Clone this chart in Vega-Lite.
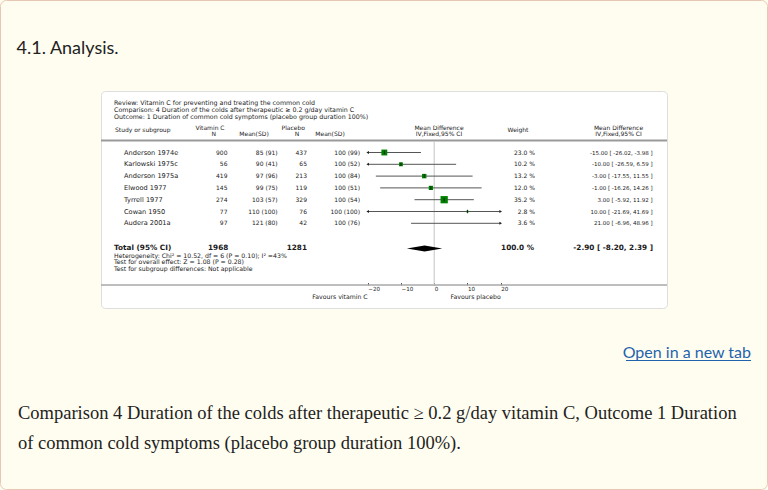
{
  "$schema": "https://vega.github.io/schema/vega-lite/v6.json",
  "width": 566,
  "height": 217,
  "autosize": {"type": "none"},
  "padding": {"left": 101, "top": 91, "right": 101, "bottom": 182},
  "background": "#fffdf0",
  "title": {"text": "4.1. Analysis.", "anchor": "start", "frame": "group", "dx": -84.5, "offset": -72, "baseline": "alphabetic", "font": "Lato", "fontSize": 18, "fontWeight": "normal", "color": "#222222"},
  "config": {
    "view": {"fill": "white", "stroke": "#dedede", "cornerRadius": 4},
    "font": "DejaVu Sans",
    "text": {"font": "DejaVu Sans", "fontSize": 6, "color": "#1a1a1a"}
  },
  "datasets": {
    "studies": [
      {"study": "Anderson 1974e", "n_vit": 900, "vit": "85 (91)", "n_pla": 437, "pla": "100 (99)", "weight": 23.0, "weight_label": "23.0 %", "md": -15.00, "lo": -26.02, "hi": -3.98, "ci_label": "-15.00 [ -26.02, -3.98 ]"},
      {"study": "Karlowski 1975c", "n_vit": 56, "vit": "90 (41)", "n_pla": 65, "pla": "100 (52)", "weight": 10.2, "weight_label": "10.2 %", "md": -10.00, "lo": -26.59, "hi": 6.59, "ci_label": "-10.00 [ -26.59, 6.59 ]"},
      {"study": "Anderson 1975a", "n_vit": 419, "vit": "97 (96)", "n_pla": 213, "pla": "100 (84)", "weight": 13.2, "weight_label": "13.2 %", "md": -3.00, "lo": -17.55, "hi": 11.55, "ci_label": "-3.00 [ -17.55, 11.55 ]"},
      {"study": "Elwood 1977", "n_vit": 145, "vit": "99 (75)", "n_pla": 119, "pla": "100 (51)", "weight": 12.0, "weight_label": "12.0 %", "md": -1.00, "lo": -16.26, "hi": 14.26, "ci_label": "-1.00 [ -16.26, 14.26 ]"},
      {"study": "Tyrrell 1977", "n_vit": 274, "vit": "103 (57)", "n_pla": 329, "pla": "100 (54)", "weight": 35.2, "weight_label": "35.2 %", "md": 3.00, "lo": -5.92, "hi": 11.92, "ci_label": "3.00 [ -5.92, 11.92 ]"},
      {"study": "Cowan 1950", "n_vit": 77, "vit": "110 (100)", "n_pla": 76, "pla": "100 (100)", "weight": 2.8, "weight_label": "2.8 %", "md": 10.00, "lo": -21.69, "hi": 41.69, "ci_label": "10.00 [ -21.69, 41.69 ]"},
      {"study": "Audera 2001a", "n_vit": 97, "vit": "121 (80)", "n_pla": 42, "pla": "100 (76)", "weight": 3.6, "weight_label": "3.6 %", "md": 21.00, "lo": -6.96, "hi": 48.96, "ci_label": "21.00 [ -6.96, 48.96 ]"}
    ],
    "total": [
      {"study": "Total (95% CI)", "n_vit": 1968, "n_pla": 1281, "weight_label": "100.0 %", "md": -2.90, "lo": -8.20, "hi": 2.39, "ci_label": "-2.90 [ -8.20, 2.39 ]"}
    ]
  },
  "data": {"name": "studies"},
  "layer": [
    {
      "data": {"values": [{}]},
      "mark": {"type": "rect", "fillOpacity": 0, "stroke": "#e8c6b4", "strokeWidth": 1, "cornerRadius": 6},
      "encoding": {"x": {"value": -100.5}, "x2": {"value": 666.5}, "y": {"value": -90.5}, "y2": {"value": 398.5}}
    },
    {
      "data": {"values": [{}]},
      "mark": {"type": "text", "align": "left", "baseline": "alphabetic", "lineHeight": 7, "fontSize": 6.3},
      "encoding": {"x": {"value": 13}, "y": {"value": 14}, "text": {"value": ["Review:  Vitamin C for preventing and treating the common cold", "Comparison:  4 Duration of the colds after therapeutic \u2265 0.2 g/day vitamin C", "Outcome:  1 Duration of common cold symptoms (placebo group duration 100%)"]}}
    },
    {
      "data": {"values": [{}]},
      "mark": {"type": "text", "align": "left", "baseline": "alphabetic"},
      "encoding": {"x": {"value": 14}, "y": {"value": 40.5}, "text": {"value": "Study or subgroup"}}
    },
    {
      "data": {"values": [{}]},
      "mark": {"type": "text", "align": "center", "baseline": "alphabetic"},
      "encoding": {"x": {"value": 109}, "y": {"value": 38.8}, "text": {"value": "Vitamin C"}}
    },
    {
      "data": {"values": [{}]},
      "mark": {"type": "text", "align": "center", "baseline": "alphabetic"},
      "encoding": {"x": {"value": 112.8}, "y": {"value": 45}, "text": {"value": "N"}}
    },
    {
      "data": {"values": [{}]},
      "mark": {"type": "text", "align": "center", "baseline": "alphabetic"},
      "encoding": {"x": {"value": 153}, "y": {"value": 45}, "text": {"value": "Mean(SD)"}}
    },
    {
      "data": {"values": [{}]},
      "mark": {"type": "text", "align": "center", "baseline": "alphabetic"},
      "encoding": {"x": {"value": 192.3}, "y": {"value": 38.8}, "text": {"value": "Placebo"}}
    },
    {
      "data": {"values": [{}]},
      "mark": {"type": "text", "align": "center", "baseline": "alphabetic"},
      "encoding": {"x": {"value": 196}, "y": {"value": 45}, "text": {"value": "N"}}
    },
    {
      "data": {"values": [{}]},
      "mark": {"type": "text", "align": "center", "baseline": "alphabetic"},
      "encoding": {"x": {"value": 229}, "y": {"value": 45}, "text": {"value": "Mean(SD)"}}
    },
    {
      "data": {"values": [{}]},
      "mark": {"type": "text", "align": "center", "baseline": "alphabetic", "lineHeight": 6},
      "encoding": {"x": {"value": 338}, "y": {"value": 39.3}, "text": {"value": ["Mean Difference", "IV,Fixed,95% CI"]}}
    },
    {
      "data": {"values": [{}]},
      "mark": {"type": "text", "align": "center", "baseline": "alphabetic"},
      "encoding": {"x": {"value": 417}, "y": {"value": 40.5}, "text": {"value": "Weight"}}
    },
    {
      "data": {"values": [{}]},
      "mark": {"type": "text", "align": "center", "baseline": "alphabetic", "lineHeight": 6},
      "encoding": {"x": {"value": 517.5}, "y": {"value": 39.3}, "text": {"value": ["Mean Difference", "IV,Fixed,95% CI"]}}
    },
    {
      "data": {"values": [{}]},
      "mark": {"type": "rule", "color": "#9a9a9a", "strokeWidth": 2},
      "encoding": {"y": {"value": 49.5}}
    },
    {
      "data": {"values": [{}]},
      "mark": {"type": "rule", "color": "#a8a8a8", "strokeWidth": 1.5},
      "encoding": {"y": {"value": 194}}
    },
    {
      "data": {"values": [{}]},
      "mark": {"type": "rule", "color": "#c4c4c4", "strokeWidth": 1},
      "encoding": {"x": {"datum": 0}, "y": {"value": 50.5}, "y2": {"value": 194}}
    },
    {
      "mark": {"type": "rule", "color": "#555555", "strokeWidth": 1},
      "encoding": {
        "x": {"field": "lo", "type": "quantitative", "scale": {"domain": [-20, 20], "range": [266.7, 399.7], "clamp": true},
              "axis": {"values": [-20, -10, 0, 10, 20], "orient": "bottom", "offset": -23, "domain": false, "grid": false, "ticks": true, "tickSize": -2.5, "tickColor": "#555555", "tickWidth": 1, "labelFont": "DejaVu Sans", "labelFontSize": 5.6, "labelColor": "#222222", "labelAlign": "left", "labelBaseline": "top", "labelPadding": 3.8, "labelFlush": false, "labelOverlap": false, "title": null}},
        "x2": {"field": "hi"},
        "y": {"field": "study", "type": "nominal", "scale": {"type": "point", "domain": ["Anderson 1974e", "Karlowski 1975c", "Anderson 1975a", "Elwood 1977", "Tyrrell 1977", "Cowan 1950", "Audera 2001a", " ", "Total (95% CI)"], "range": [61.5, 155.9], "padding": 0}, "axis": null}
      }
    },
    {
      "transform": [{"filter": "datum.lo < -20"}],
      "mark": {"type": "point", "shape": "triangle-left", "filled": true, "size": 9, "color": "#222222", "opacity": 1},
      "encoding": {
        "x": {"field": "lo", "type": "quantitative"},
        "y": {"field": "study", "type": "nominal", "axis": null}
      }
    },
    {
      "transform": [{"filter": "datum.hi > 20"}],
      "mark": {"type": "point", "shape": "triangle-right", "filled": true, "size": 9, "color": "#222222", "opacity": 1},
      "encoding": {
        "x": {"field": "hi", "type": "quantitative"},
        "y": {"field": "study", "type": "nominal", "axis": null}
      }
    },
    {
      "transform": [{"filter": "datum.md >= -20 && datum.md <= 20"}],
      "mark": {"type": "point", "shape": "square", "filled": true, "color": "#008000", "opacity": 1},
      "encoding": {
        "x": {"field": "md", "type": "quantitative"},
        "y": {"field": "study", "type": "nominal", "axis": null},
        "size": {"field": "weight", "type": "quantitative", "scale": {"domain": [0, 100], "range": [0, 150]}, "legend": null}
      }
    },
    {
      "transform": [{"filter": "datum.md >= -20 && datum.md <= 20"}],
      "mark": {"type": "tick", "color": "#111111", "thickness": 0.8, "size": 3.5, "opacity": 1},
      "encoding": {
        "x": {"field": "md", "type": "quantitative"},
        "y": {"field": "study", "type": "nominal", "axis": null}
      }
    },
    {
      "mark": {"type": "text", "align": "left", "baseline": "middle", "fontSize": 6.6},
      "encoding": {"x": {"value": 23}, "y": {"field": "study", "type": "nominal", "axis": null}, "text": {"field": "study"}}
    },
    {
      "mark": {"type": "text", "align": "right", "baseline": "middle"},
      "encoding": {"x": {"value": 126.5}, "y": {"field": "study", "type": "nominal", "axis": null}, "text": {"field": "n_vit", "type": "quantitative"}}
    },
    {
      "mark": {"type": "text", "align": "right", "baseline": "middle"},
      "encoding": {"x": {"value": 176.7}, "y": {"field": "study", "type": "nominal", "axis": null}, "text": {"field": "vit"}}
    },
    {
      "mark": {"type": "text", "align": "right", "baseline": "middle"},
      "encoding": {"x": {"value": 206}, "y": {"field": "study", "type": "nominal", "axis": null}, "text": {"field": "n_pla", "type": "quantitative"}}
    },
    {
      "mark": {"type": "text", "align": "right", "baseline": "middle"},
      "encoding": {"x": {"value": 259}, "y": {"field": "study", "type": "nominal", "axis": null}, "text": {"field": "pla"}}
    },
    {
      "mark": {"type": "text", "align": "right", "baseline": "middle"},
      "encoding": {"x": {"value": 434}, "y": {"field": "study", "type": "nominal", "axis": null}, "text": {"field": "weight_label"}}
    },
    {
      "mark": {"type": "text", "align": "right", "baseline": "middle", "fontSize": 5.5},
      "encoding": {"x": {"value": 551.7}, "y": {"field": "study", "type": "nominal", "axis": null}, "text": {"field": "ci_label"}}
    },
    {
      "data": {"name": "total"},
      "mark": {"type": "text", "align": "left", "baseline": "middle", "fontSize": 7.3, "fontWeight": "bold", "dy": 1},
      "encoding": {"x": {"value": 13}, "y": {"field": "study", "type": "nominal", "axis": null}, "text": {"field": "study"}}
    },
    {
      "data": {"name": "total"},
      "mark": {"type": "text", "align": "right", "baseline": "middle", "fontSize": 7.3, "fontWeight": "bold", "dy": 1},
      "encoding": {"x": {"value": 127.3}, "y": {"field": "study", "type": "nominal", "axis": null}, "text": {"field": "n_vit", "type": "quantitative"}}
    },
    {
      "data": {"name": "total"},
      "mark": {"type": "text", "align": "right", "baseline": "middle", "fontSize": 7.3, "fontWeight": "bold", "dy": 1},
      "encoding": {"x": {"value": 206}, "y": {"field": "study", "type": "nominal", "axis": null}, "text": {"field": "n_pla", "type": "quantitative"}}
    },
    {
      "data": {"name": "total"},
      "mark": {"type": "text", "align": "right", "baseline": "middle", "fontSize": 7.3, "fontWeight": "bold", "dy": 1.5},
      "encoding": {"x": {"value": 433}, "y": {"field": "study", "type": "nominal", "axis": null}, "text": {"field": "weight_label"}}
    },
    {
      "data": {"name": "total"},
      "mark": {"type": "text", "align": "right", "baseline": "middle", "fontSize": 7.3, "fontWeight": "bold", "dy": 1.5},
      "encoding": {"x": {"value": 552}, "y": {"field": "study", "type": "nominal", "axis": null}, "text": {"field": "ci_label"}}
    },
    {
      "data": {"name": "total"},
      "mark": {"type": "point", "shape": "M-1,0L0,-0.17L1,0L0,0.17Z", "filled": true, "color": "#000000", "opacity": 1, "size": 1250, "yOffset": 1.5},
      "encoding": {"x": {"field": "md", "type": "quantitative"}, "y": {"field": "study", "type": "nominal", "axis": null}}
    },
    {
      "data": {"values": [{}]},
      "mark": {"type": "text", "align": "left", "baseline": "alphabetic", "lineHeight": 6.7, "fontSize": 6.2},
      "encoding": {"x": {"value": 13}, "y": {"value": 166.7}, "text": {"value": ["Heterogeneity: Chi\u00b2 = 10.52, df = 6 (P = 0.10); I\u00b2 =43%", "Test for overall effect: Z = 1.08 (P = 0.28)", "Test for subgroup differences: Not applicable"]}}
    },
    {
      "data": {"values": [{}]},
      "mark": {"type": "text", "align": "right", "baseline": "alphabetic", "fontSize": 6.2},
      "encoding": {"x": {"datum": -20}, "y": {"value": 207.8}, "text": {"value": "Favours vitamin C"}}
    },
    {
      "data": {"values": [{}]},
      "mark": {"type": "text", "align": "right", "baseline": "alphabetic", "fontSize": 6.2},
      "encoding": {"x": {"datum": 20}, "y": {"value": 207.8}, "text": {"value": "Favours placebo"}}
    },
    {
      "data": {"values": [{}]},
      "mark": {"type": "text", "align": "right", "baseline": "alphabetic", "font": "Lato", "fontSize": 16, "color": "#1f63ad"},
      "encoding": {"x": {"value": 650}, "y": {"value": 266.5}, "text": {"value": "Open in a new tab"}}
    },
    {
      "data": {"values": [{}]},
      "mark": {"type": "rule", "color": "#1f63ad", "strokeWidth": 1},
      "encoding": {"x": {"value": 525}, "x2": {"value": 650}, "y": {"value": 269.5}}
    },
    {
      "data": {"values": [{}]},
      "mark": {"type": "text", "align": "left", "baseline": "alphabetic", "font": "Liberation Serif", "fontSize": 18.5, "lineHeight": 30, "color": "#222222"},
      "encoding": {"x": {"value": -83}, "y": {"value": 328}, "text": {"value": ["Comparison 4 Duration of the colds after therapeutic \u2265 0.2 g/day vitamin C, Outcome 1 Duration", "of common cold symptoms (placebo group duration 100%)."]}}
    }
  ]
}
